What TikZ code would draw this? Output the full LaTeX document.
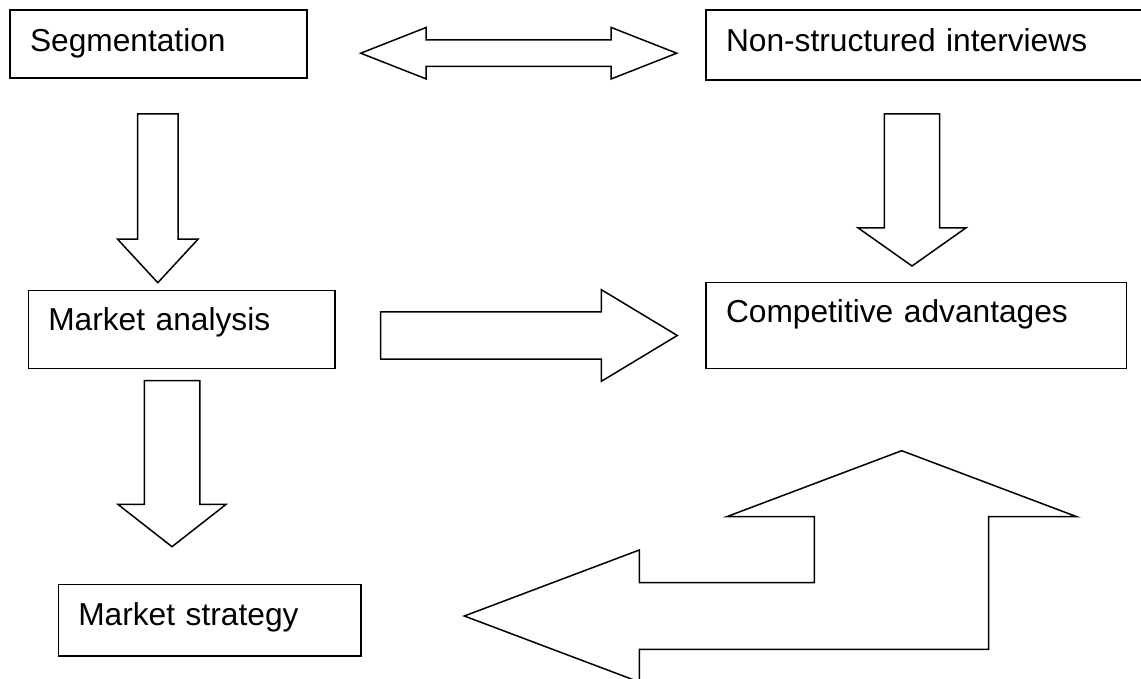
\documentclass[tikz,border=0pt]{standalone}
\usepackage{fontspec}
\setmainfont{Liberation Sans}
\usetikzlibrary{shapes.arrows}

\begin{document}
\begin{tikzpicture}[x=1pt, y=-1pt, line width=1.5pt]
        % Define block styles
        \tikzstyle{block} = [rectangle, draw, anchor=north west, inner xsep=20pt, inner ysep=0pt, outer sep=0pt, align=left, font=\fontsize{31.7}{38}\selectfont]
        \tikzstyle{fat} = [draw, single arrow, anchor=tip, inner sep=0pt, outer sep=0pt, minimum width=0pt, line join=miter]
        \tikzstyle{fat down} = [fat, rotate=-90]

        % Keep the size of the page
        \useasboundingbox (0,0) rectangle (1141,679);
        \clip (0,0) rectangle (1141,679);

        % Place nodes
        \node [block, text width=257pt, text height=42pt, text depth=26pt] (segmentation) at (10,10) {Segmentation};
        \node [block, text width=420pt, text height=41.7pt, text depth=28.3pt] (interviews) at (706,10) {Non-structured interviews};
        \node [block, text width=266.7pt, text height=40pt, text depth=37.6pt] (market_analysis) at (28.3,290.7) {Market analysis};
        \node [block, text width=380.7pt, text height=40pt, text depth=45.6pt] (advantages) at (706,282.7) {Competitive advantages};
        \node [block, text width=262.7pt, text height=40.7pt, text depth=31pt] (market_strategy) at (58.3,584.3) {Market strategy};

        % Draw connections as block arrows
        \node [draw, double arrow, inner sep=0pt, outer sep=0pt, inner ysep=12.5pt, double arrow head extend=12.5pt, double arrow tip angle=42.9, minimum height=316pt, minimum width=0pt, line join=miter] (segmentation_interviews) at (518.7,53.2) {};
        \node [fat down, inner ysep=19.5pt, single arrow head extend=20pt, single arrow tip angle=85.5, minimum height=168.7pt] (segmentation_analysis) at (157.8,282.7) {};
        \node [fat down, inner ysep=26.8pt, single arrow head extend=26.5pt, single arrow tip angle=109.5, minimum height=152pt] (interviews_advantages) at (912,266) {};
        \node [fat down, inner ysep=27pt, single arrow head extend=26.3pt, single arrow tip angle=103.9, minimum height=166pt] (analysis_strategy) at (172,546.7) {};
        \node [fat, inner ysep=22.8pt, single arrow head extend=22.2pt, single arrow tip angle=62.2, minimum height=296.6pt] (analysis_advantages) at (677.3,335.5) {};

        % Bent arrow back to the strategy
        \draw [line join=miter] (464.3,616) -- (639.3,550) -- (639.3,582.7) -- (814.3,582.7) -- (814.3,516.7) -- (726.7,516.7) -- (901.7,450.7) -- (1076.7,516.7) -- (988.7,516.7) -- (988.7,649.3) -- (639.3,649.3) -- (639.3,682) -- cycle;
\end{tikzpicture}
\end{document}
